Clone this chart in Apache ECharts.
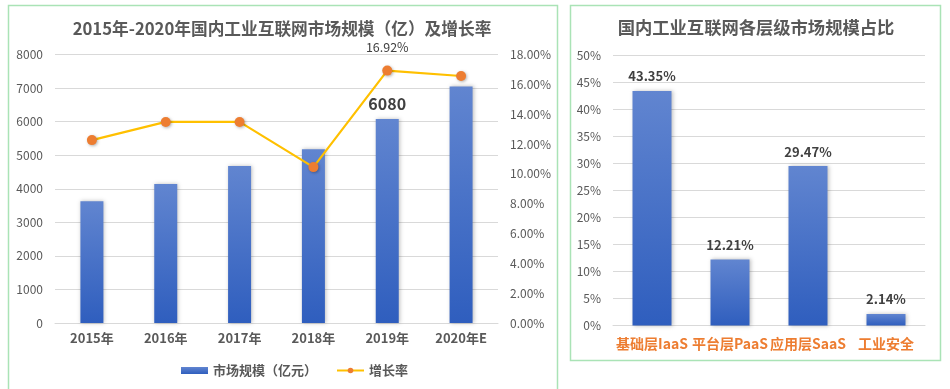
<!DOCTYPE html>
<html>
<head>
<meta charset="utf-8">
<script src="https://cdn.jsdelivr.net/npm/echarts@6/dist/echarts.min.js"></script>
<style>
html,body{margin:0;padding:0;background:#fff;}
#main{width:950px;height:389px;}
</style>
</head>
<body>
<div id="main"></div>
<script>
// ---- data ----
const years = ['2015年', '2016年', '2017年', '2018年', '2019年', '2020年E'];
const marketSize = [3630, 4140, 4680, 5180, 6080, 7050];
const growthRate = [12.26, 13.48, 13.48, 10.45, 16.92, 16.56];
const leftTicksMax = 8000;
const rightTicksMax = 18;
const layers = ['基础层IaaS', '平台层PaaS', '应用层SaaS', '工业安全'];
const layerShare = [43.35, 12.21, 29.47, 2.14];
const labelledYear = '2019年';

const leftTitle = '2015年-2020年国内工业互联网市场规模（亿）及增长率';
const rightTitle = '国内工业互联网各层级市场规模占比';

const FONT = '"Noto Sans CJK SC", "Noto Sans", sans-serif';
const AXIS_TEXT = '#595959';
const GRID_LINE = '#D9D9D9';

function barGradient() {
  return new echarts.graphic.LinearGradient(0, 0, 0, 1, [
    { offset: 0, color: '#6185D0' },
    { offset: 1, color: '#2F5EBE' }
  ]);
}

const chart = echarts.init(document.getElementById('main'), null, { renderer: 'canvas' });

const option = {
  backgroundColor: '#ffffff',
  animation: false,
  textStyle: { fontFamily: FONT },
  graphic: [
    { type: 'rect', shape: { x: 8.5, y: 5.5, width: 549, height: 400 }, style: { fill: 'none', stroke: '#AAE3B6', lineWidth: 1.5 }, silent: true },
    { type: 'rect', shape: { x: 570.5, y: 5.5, width: 370, height: 355 }, style: { fill: 'none', stroke: '#AAE3B6', lineWidth: 1.5 }, silent: true },
    { type: 'text', x: 282, y: 28.5, style: { text: leftTitle, fill: '#595959', font: 'bold 16.7px ' + FONT, textAlign: 'center', textVerticalAlign: 'middle' } },
    { type: 'text', x: 756, y: 27.5, style: { text: rightTitle, fill: '#595959', font: 'bold 17.3px ' + FONT, textAlign: 'center', textVerticalAlign: 'middle' } }
  ],
  legend: {
    left: 176,
    top: 359,
    itemWidth: 27,
    itemHeight: 7,
    itemGap: 19,
    textStyle: { color: '#595959', fontSize: 13, fontWeight: 'bold', fontFamily: FONT },
    data: [
      { name: '市场规模（亿元）', icon: 'rect' },
      { name: '增长率' }
    ]
  },
  grid: [
    { left: 55, right: 452, top: 54.5, bottom: 66 },
    { left: 613, right: 25, top: 55, bottom: 63.5 }
  ],
  xAxis: [
    {
      gridIndex: 0, type: 'category', data: years,
      axisLine: { lineStyle: { color: GRID_LINE } },
      axisTick: { show: false },
      axisLabel: { color: AXIS_TEXT, fontSize: 13, fontWeight: 'bold', margin: 9, fontFamily: FONT }
    },
    {
      gridIndex: 1, type: 'category', data: layers,
      axisLine: { lineStyle: { color: GRID_LINE } },
      axisTick: { show: false },
      axisLabel: { color: '#ED7D31', fontSize: 14, fontWeight: 'bold', margin: 11, fontFamily: FONT, interval: 0 }
    }
  ],
  yAxis: [
    {
      gridIndex: 0, type: 'value', min: 0, max: leftTicksMax, interval: 1000,
      axisLine: { show: false }, axisTick: { show: false },
      splitLine: { lineStyle: { color: GRID_LINE } },
      axisLabel: { color: AXIS_TEXT, fontSize: 12, margin: 12, fontFamily: FONT, formatter: v => String(v) }
    },
    {
      gridIndex: 0, type: 'value', min: 0, max: rightTicksMax, interval: 2, position: 'right',
      axisLine: { show: false }, axisTick: { show: false },
      splitLine: { show: false },
      axisLabel: { color: AXIS_TEXT, fontSize: 12, margin: 12, fontFamily: FONT, formatter: v => v.toFixed(2) + '%' }
    },
    {
      gridIndex: 1, type: 'value', min: 0, max: 50, interval: 5,
      axisLine: { show: false }, axisTick: { show: false },
      splitLine: { lineStyle: { color: GRID_LINE } },
      axisLabel: { color: AXIS_TEXT, fontSize: 12, margin: 12, fontFamily: FONT, formatter: '{value}%' }
    }
  ],
  series: [
    {
      name: '市场规模（亿元）', type: 'bar', xAxisIndex: 0, yAxisIndex: 0,
      barWidth: 23,
      itemStyle: { color: barGradient(), shadowColor: 'rgba(0,0,0,0.25)', shadowBlur: 4, shadowOffsetX: 1, shadowOffsetY: 0 },
      data: marketSize.map((v, i) => years[i] === labelledYear ? {
        value: v,
        label: { show: true, position: 'top', distance: 7, color: '#404040', fontSize: 16, fontWeight: 'bold', fontFamily: FONT }
      } : v)
    },
    {
      name: '增长率', type: 'line', xAxisIndex: 0, yAxisIndex: 1,
      symbol: 'circle', symbolSize: 10,
      lineStyle: { color: '#FFC000', width: 2.2 },
      itemStyle: { color: '#ED7D31', shadowColor: 'rgba(0,0,0,0.3)', shadowBlur: 3, shadowOffsetX: 1, shadowOffsetY: 1 },
      data: growthRate.map((v, i) => years[i] === labelledYear ? {
        value: v,
        label: { show: true, position: 'top', distance: 12, color: '#404040', fontSize: 12.5, fontFamily: FONT, formatter: p => p.value.toFixed(2) + '%' }
      } : v)
    },
    {
      name: '各层级占比', type: 'bar', xAxisIndex: 1, yAxisIndex: 2,
      barWidth: 39,
      itemStyle: { color: barGradient(), shadowColor: 'rgba(0,0,0,0.25)', shadowBlur: 4, shadowOffsetX: 1, shadowOffsetY: 0 },
      label: { show: true, position: 'top', distance: 8, color: '#404040', fontSize: 13, fontWeight: 'bold', fontFamily: FONT, formatter: p => p.value.toFixed(2) + '%' },
      data: layerShare
    }
  ]
};
chart.setOption(option);
</script>
</body>
</html>
